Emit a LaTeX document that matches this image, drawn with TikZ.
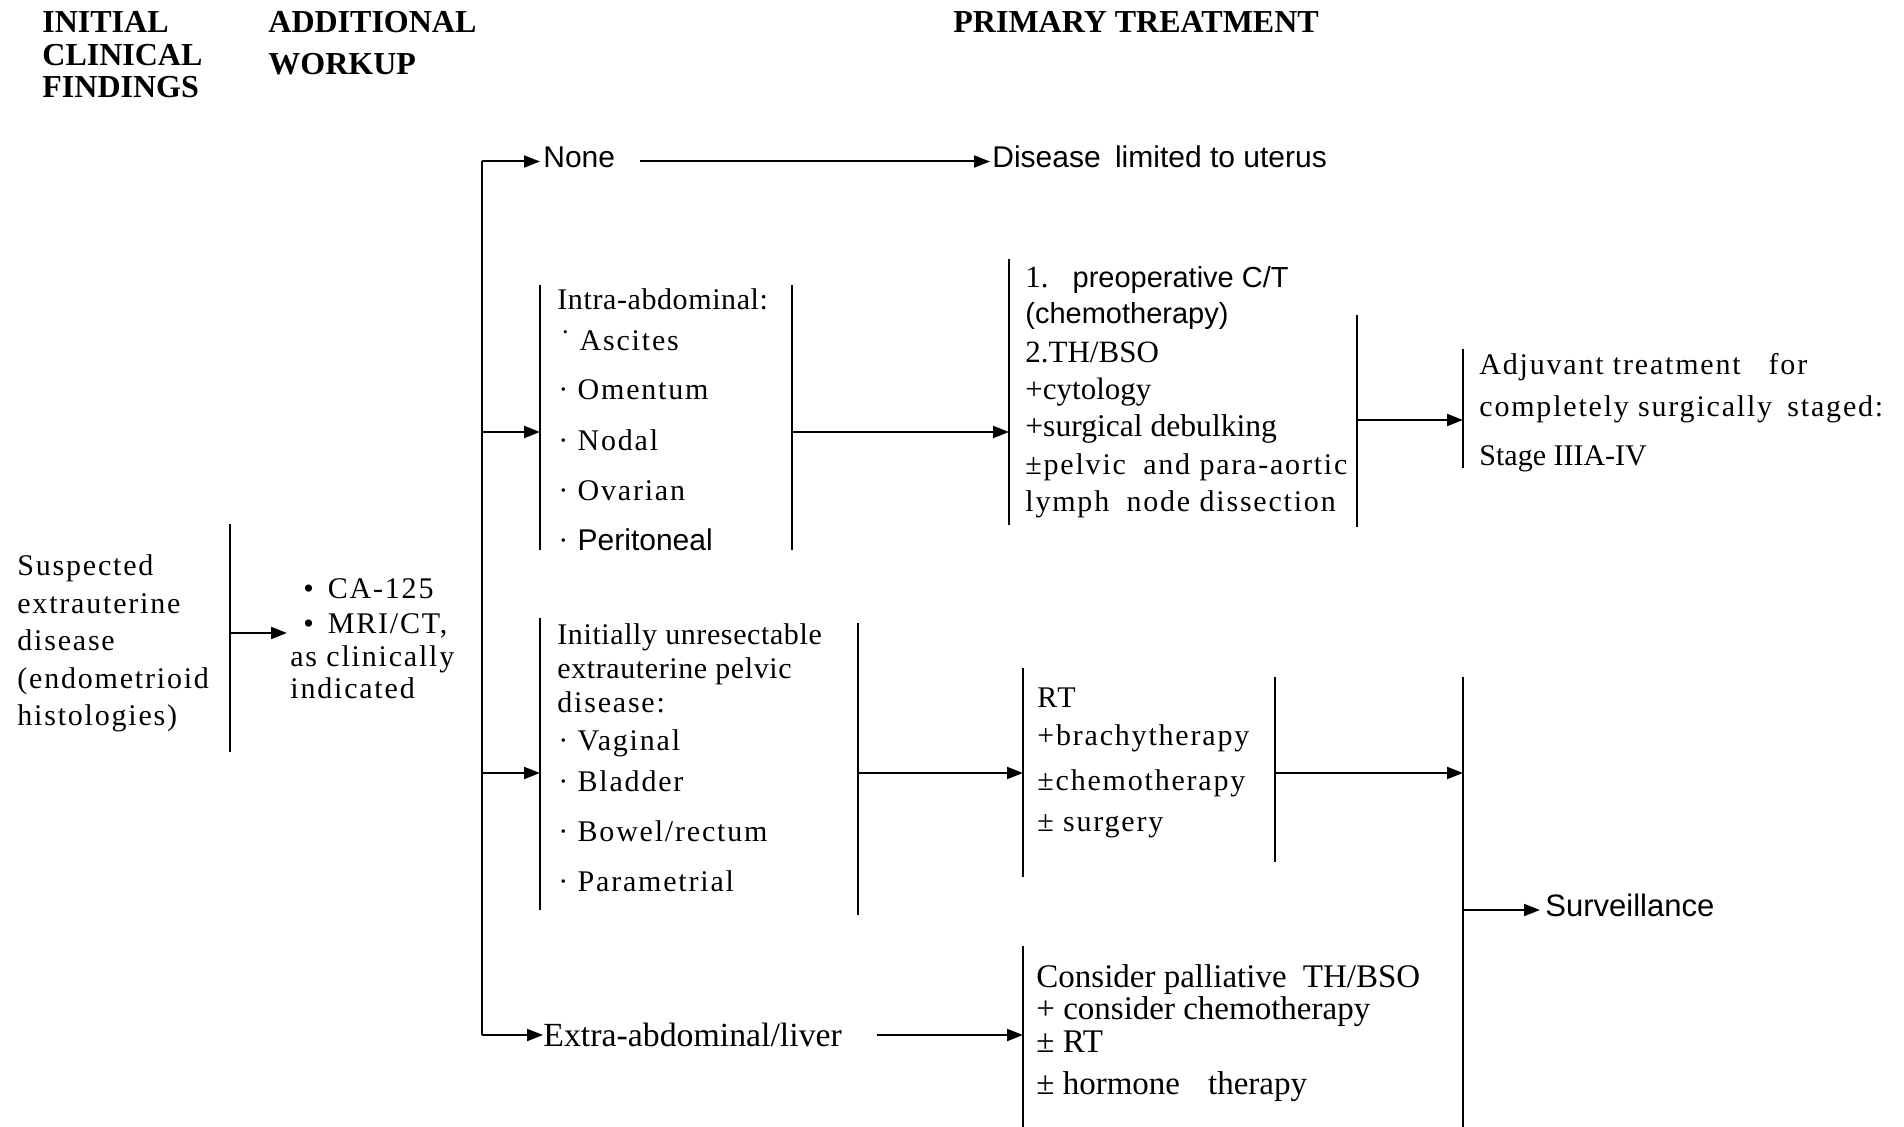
\documentclass[tikz,border=0pt]{standalone}
\usepackage{fontspec}
\setmainfont{Liberation Serif}
\newfontfamily\srsp[LetterSpace=6]{Liberation Serif}
\newfontfamily\srsq[LetterSpace=2]{Liberation Serif}
\newfontfamily\arl{Liberation Sans}
\usetikzlibrary{arrows.meta}
\begin{document}
\begin{tikzpicture}[x=0.5pt,y=-0.5pt,
  hdtxt/.style={font=\bfseries\fontsize{16}{18}\selectfont, anchor=base west, inner sep=0},
  sptxt/.style={font=\srsp\fontsize{15}{18}\selectfont, anchor=base west, inner sep=0},
  sqtxt/.style={font=\srsq\fontsize{15}{18}\selectfont, anchor=base west, inner sep=0},
  rmtxt/.style={font=\fontsize{15.5}{18}\selectfont, anchor=base west, inner sep=0},
  sftxt/.style={font=\arl\fontsize{15}{18}\selectfont, anchor=base west, inner sep=0},
  cdtxt/.style={font=\fontsize{16.5}{18}\selectfont, anchor=base west, inner sep=0},
  vbar/.style={line width=1pt},
  harrow/.style={line width=1pt, -{Triangle[length=8pt,width=6pt]}}]
\useasboundingbox[fill=white] (0,0) rectangle (1904,1127);

% headers
\node[hdtxt] (h1) at (42,33) {INITIAL};
\node[hdtxt] (h2) at (42,66) {CLINICAL};
\node[hdtxt] (h3) at (42,98) {FINDINGS};
\node[hdtxt] (h4) at (268,33) {ADDITIONAL};
\node[hdtxt] (h5) at (268,75) {WORKUP};
\node[hdtxt] (h6) at (953,33) {PRIMARY TREATMENT};

% initial findings
\node[sptxt] (s1) at (17,576) {Suspected};
\node[sptxt] (s2) at (17,613) {extrauterine};
\node[sptxt] (s3) at (17,650) {disease};
\node[sptxt] (s4) at (17,688) {(endometrioid};
\node[sptxt] (s5) at (17,725) {histologies)};
\coordinate (b1t) at (230,524);
\coordinate (b1b) at (230,752);
\coordinate (b1m) at (230,633);
\draw[vbar] (b1t) -- (b1b);

% workup
\node[sptxt] (w1) at (303,598) {•\hspace{7pt}CA-125};
\node[sptxt] (w2) at (303,633) {•\hspace{7pt}MRI/CT,};
\node[sptxt] (w3) at (290,666) {as clinically};
\node[sptxt] (w4) at (290,698) {indicated};
\coordinate (wk) at (287,633);
\draw[harrow] (b1m) -- (wk);

% trunk
\coordinate (tt) at (482,161.5);
\coordinate (t2) at (482,432);
\coordinate (t3) at (482,773);
\coordinate (tb) at (482,1035);
\draw[vbar] (tt) -- (tb);

% none branch
\node[sftxt] (none) at (543,168) {None};
\node[sftxt] (lim) at (992,168) {Disease\hspace{3pt} limited to uterus};
\coordinate (n1) at (540,161.5);
\coordinate (n2) at (640,161.5);
\coordinate (n3) at (990,161.5);
\draw[harrow] (tt) -- (n1);
\draw[harrow] (n2) -- (n3);

% intra-abdominal block
\coordinate (ial1) at (540,285);
\coordinate (ial2) at (540,550);
\coordinate (iar1) at (792,285);
\coordinate (iar2) at (792,550);
\coordinate (ial) at (540,432);
\coordinate (iar) at (792,432);
\draw[vbar] (ial1) -- (ial2);
\draw[vbar] (iar1) -- (iar2);
\draw[harrow] (t2) -- (ial);
\node[sqtxt] (ia1) at (557,310) {Intra-abdominal:};
\node[sptxt] (ia2) at (560,351) {˙ Ascites};
\node[sptxt] (ia3) at (558,400) {· Omentum};
\node[sptxt] (ia4) at (558,451) {· Nodal};
\node[sptxt] (ia5) at (558,501) {· Ovarian};
\node[sptxt] (ia6) at (558,551) {· {\arl Peritoneal}};

% chemo / surgery block
\coordinate (cl1) at (1009,259);
\coordinate (cl2) at (1009,525);
\coordinate (cl) at (1009,432);
\coordinate (cr1) at (1357,315);
\coordinate (cr2) at (1357,527);
\coordinate (cr) at (1357,420);
\draw[vbar] (cl1) -- (cl2);
\draw[vbar] (cr1) -- (cr2);
\draw[harrow] (iar) -- (cl);
\node[rmtxt] (c1) at (1025,288) {1.\hspace{12pt}{\arl\fontsize{14.5}{18}\selectfont preoperative C/T}};
\node[sftxt, font=\arl\fontsize{14.5}{18}\selectfont] (c2) at (1025,324) {(chemotherapy)};
\node[rmtxt] (c3) at (1025,363) {2.TH/BSO};
\node[rmtxt] (c4) at (1025,400) {+cytology};
\node[rmtxt, font=\fontsize{15.8}{18}\selectfont] (c5) at (1025,437) {+surgical debulking};
\node[sptxt] (c6) at (1025,475) {±pelvic\hspace{4pt} and para-aortic};
\node[sptxt] (c7) at (1025,512) {lymph\hspace{4pt} node dissection};

% adjuvant
\coordinate (aj1) at (1463,349);
\coordinate (aj2) at (1463,468);
\coordinate (aj) at (1463,420);
\draw[vbar] (aj1) -- (aj2);
\draw[harrow] (cr) -- (aj);
\node[sptxt] (a1) at (1479,375) {Adjuvant treatment\hspace{14pt}for};
\node[sptxt] (a2) at (1479,417) {completely surgically\hspace{3pt} staged:};
\node[rmtxt, font=\fontsize{15}{18}\selectfont] (a3) at (1479,466) {Stage IIIA-IV};

% pelvic block
\coordinate (pl1) at (540,618);
\coordinate (pl2) at (540,910);
\coordinate (pl) at (540,773);
\coordinate (pr1) at (858,623);
\coordinate (pr2) at (858,915);
\coordinate (pr) at (858,773);
\draw[vbar] (pl1) -- (pl2);
\draw[vbar] (pr1) -- (pr2);
\draw[harrow] (t3) -- (pl);
\node[sqtxt] (p1) at (557,645) {Initially unresectable};
\node[sqtxt] (p2) at (557,678) {extrauterine pelvic};
\node[sptxt] (p3) at (557,712) {disease:};
\node[sptxt] (p4) at (558,750) {· Vaginal};
\node[sptxt] (p5) at (558,791) {· Bladder};
\node[sptxt] (p6) at (558,841) {· Bowel/rectum};
\node[sptxt] (p7) at (558,891) {· Parametrial};

% RT block
\coordinate (rl1) at (1023,668);
\coordinate (rl2) at (1023,877);
\coordinate (rl) at (1023,773);
\coordinate (rr1) at (1275,677);
\coordinate (rr2) at (1275,862);
\coordinate (rr) at (1275,773);
\draw[vbar] (rl1) -- (rl2);
\draw[vbar] (rr1) -- (rr2);
\draw[harrow] (pr) -- (rl);
\node[sptxt] (r1) at (1037,707) {RT};
\node[sptxt] (r2) at (1037,745) {+brachytherapy};
\node[sptxt] (r3) at (1037,790) {±chemotherapy};
\node[sptxt] (r4) at (1037,831) {± surgery};

% surveillance
\coordinate (sv1) at (1463,677);
\coordinate (sv2) at (1463,1127);
\coordinate (svin) at (1463,773);
\coordinate (svo) at (1463,910);
\coordinate (svt) at (1540,910);
\draw[vbar] (sv1) -- (sv2);
\draw[harrow] (rr) -- (svin);
\draw[harrow] (svo) -- (svt);
\node[sftxt, font=\arl\fontsize{15.5}{18}\selectfont] (surv) at (1545,916) {Surveillance};

% extra-abdominal
\node[cdtxt, font=\fontsize{16.9}{18}\selectfont] (ex) at (543,1046) {Extra-abdominal/liver};
\coordinate (eb) at (543,1035);
\coordinate (e1) at (877,1035);
\coordinate (e2) at (1023,1035);
\draw[harrow] (tb) -- (eb);
\draw[harrow] (e1) -- (e2);
\coordinate (el1) at (1023,946);
\coordinate (el2) at (1023,1127);
\draw[vbar] (el1) -- (el2);
\node[cdtxt] (x1) at (1036,987) {Consider palliative\hspace{4pt} TH/BSO};
\node[cdtxt] (x2) at (1036,1019) {+ consider chemotherapy};
\node[cdtxt] (x3) at (1036,1052) {± RT};
\node[cdtxt] (x4) at (1036,1094) {± hormone\hspace{14pt}therapy};
\end{tikzpicture}
\end{document}
